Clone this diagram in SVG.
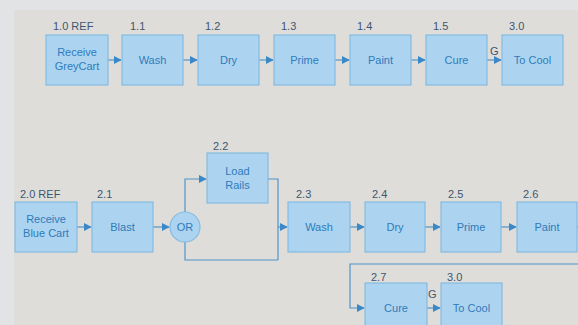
<svg xmlns="http://www.w3.org/2000/svg" width="578" height="325" viewBox="0 0 578 325">
  <defs>
    <style>
      .box { fill: #acd4f0; stroke: #86bbe0; stroke-width: 1.2; }
      .txt { font-family: "Liberation Sans", Arial, sans-serif; font-size: 11px; fill: #2f7bbb; text-anchor: middle; }
      .lbl { font-family: "Liberation Sans", Arial, sans-serif; font-size: 11px; fill: #3d5670; }
      .con { fill: none; stroke: #4f95cc; stroke-width: 1.2; }
      .or { fill: #acd4f0; stroke: #86bbe0; stroke-width: 1.2; }
    </style>
    <marker id="arr" viewBox="0 0 10 10" refX="9" refY="5" markerWidth="8" markerHeight="8" markerUnits="userSpaceOnUse" orient="auto">
      <path d="M0,0 L10,5 L0,10 z" fill="#3a88c8"/>
    </marker>
  </defs>

  <!-- backdrop -->
  <rect x="0" y="0" width="578" height="325" fill="#e2e3e4"/>
  <rect x="14" y="10" width="564" height="315" fill="#dfddda"/>

  <!-- connectors -->
  <g id="connectors">
    <path class="con" d="M108,60 H121" marker-end="url(#arr)"/>
    <path class="con" d="M183,60 H197" marker-end="url(#arr)"/>
    <path class="con" d="M259,60 H273" marker-end="url(#arr)"/>
    <path class="con" d="M335,60 H349" marker-end="url(#arr)"/>
    <path class="con" d="M411,60 H425" marker-end="url(#arr)"/>
    <path class="con" d="M487,60 H501" marker-end="url(#arr)"/>

    <path class="con" d="M77,227 H91" marker-end="url(#arr)"/>
    <path class="con" d="M153,227 H169" marker-end="url(#arr)"/>
    <path class="con" d="M185,212 V179 H206" marker-end="url(#arr)"/>
    <path class="con" d="M268,179 H278 V260"/>
    <path class="con" d="M185,242 V260 H278"/>
    <path class="con" d="M278,227 H287" marker-end="url(#arr)"/>
    <path class="con" d="M350,227 H364" marker-end="url(#arr)"/>
    <path class="con" d="M425,227 H440" marker-end="url(#arr)"/>
    <path class="con" d="M501,227 H516" marker-end="url(#arr)"/>
    <path class="con" d="M577,227 H586 V264 H350 V308 H364" marker-end="url(#arr)"/>
    <path class="con" d="M427,308 H440" marker-end="url(#arr)"/>
  </g>

  <!-- row 1 -->
  <g id="n1_0">
    <text class="lbl" x="53" y="30">1.0  REF</text>
    <rect class="box" x="46" y="35" width="62" height="50"/>
    <text class="txt" x="77" y="56">Receive</text>
    <text class="txt" x="77" y="70">GreyCart</text>
  </g>
  <g id="n1_1">
    <text class="lbl" x="130" y="30">1.1</text>
    <rect class="box" x="122" y="35" width="61" height="50"/>
    <text class="txt" x="152.5" y="64">Wash</text>
  </g>
  <g id="n1_2">
    <text class="lbl" x="205" y="30">1.2</text>
    <rect class="box" x="198" y="35" width="61" height="50"/>
    <text class="txt" x="228.5" y="64">Dry</text>
  </g>
  <g id="n1_3">
    <text class="lbl" x="281" y="30">1.3</text>
    <rect class="box" x="274" y="35" width="61" height="50"/>
    <text class="txt" x="304.5" y="64">Prime</text>
  </g>
  <g id="n1_4">
    <text class="lbl" x="357" y="30">1.4</text>
    <rect class="box" x="350" y="35" width="61" height="50"/>
    <text class="txt" x="380.5" y="64">Paint</text>
  </g>
  <g id="n1_5">
    <text class="lbl" x="433" y="30">1.5</text>
    <rect class="box" x="426" y="35" width="61" height="50"/>
    <text class="txt" x="456.5" y="64">Cure</text>
  </g>
  <g id="n3_0a">
    <text class="lbl" x="490" y="55">G</text>
    <text class="lbl" x="509" y="30">3.0</text>
    <rect class="box" x="502" y="35" width="61" height="50"/>
    <text class="txt" x="532.5" y="64">To Cool</text>
  </g>

  <!-- row 2 -->
  <g id="n2_0">
    <text class="lbl" x="20" y="198">2.0  REF</text>
    <rect class="box" x="15" y="202" width="62" height="50"/>
    <text class="txt" x="46" y="223">Receive</text>
    <text class="txt" x="46" y="237">Blue Cart</text>
  </g>
  <g id="n2_1">
    <text class="lbl" x="97" y="198">2.1</text>
    <rect class="box" x="92" y="202" width="61" height="50"/>
    <text class="txt" x="122.5" y="231">Blast</text>
  </g>
  <g id="or">
    <circle class="or" cx="185" cy="227" r="15"/>
    <text class="txt" x="185" y="231">OR</text>
  </g>
  <g id="n2_2">
    <text class="lbl" x="213" y="150">2.2</text>
    <rect class="box" x="207" y="153" width="61" height="50"/>
    <text class="txt" x="237.5" y="175">Load</text>
    <text class="txt" x="237.5" y="189">Rails</text>
  </g>
  <g id="n2_3">
    <text class="lbl" x="296" y="198">2.3</text>
    <rect class="box" x="288" y="202" width="62" height="50"/>
    <text class="txt" x="319" y="231">Wash</text>
  </g>
  <g id="n2_4">
    <text class="lbl" x="372" y="198">2.4</text>
    <rect class="box" x="365" y="202" width="60" height="50"/>
    <text class="txt" x="395" y="231">Dry</text>
  </g>
  <g id="n2_5">
    <text class="lbl" x="448" y="198">2.5</text>
    <rect class="box" x="441" y="202" width="60" height="50"/>
    <text class="txt" x="471" y="231">Prime</text>
  </g>
  <g id="n2_6">
    <text class="lbl" x="523" y="198">2.6</text>
    <rect class="box" x="517" y="202" width="60" height="50"/>
    <text class="txt" x="547" y="231">Paint</text>
  </g>
  <g id="n2_7">
    <text class="lbl" x="371" y="281">2.7</text>
    <rect class="box" x="365" y="283" width="62" height="50"/>
    <text class="txt" x="396" y="312">Cure</text>
  </g>
  <g id="n3_0b">
    <text class="lbl" x="428" y="298">G</text>
    <text class="lbl" x="447" y="281">3.0</text>
    <rect class="box" x="441" y="283" width="61" height="50"/>
    <text class="txt" x="471.5" y="312">To Cool</text>
  </g>
</svg>
